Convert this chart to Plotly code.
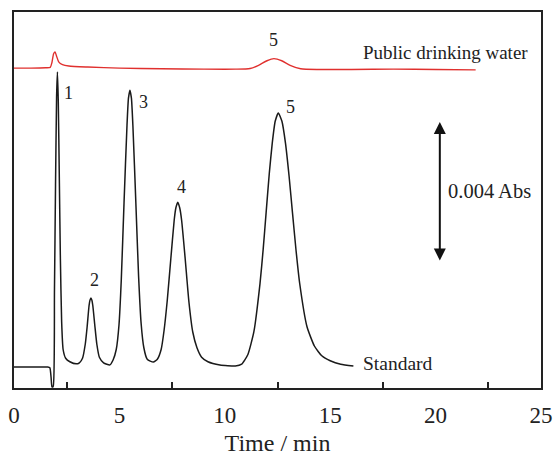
import plotly.graph_objects as go

# Standard chromatogram (time in min, absorbance in Abs, offset for display)
std_time = [0.00, 0.80, 1.60, 1.70, 1.76, 1.80, 1.86, 1.92, 1.97, 2.02, 2.06, 2.10, 2.15, 2.20, 2.26,
            2.33, 2.45, 2.65, 2.95, 3.10, 3.25, 3.38, 3.47, 3.56, 3.605, 3.65, 3.695, 3.74, 3.84,
            3.93, 4.05, 4.25, 4.55, 4.70, 4.85, 4.98, 5.09, 5.22, 5.36, 5.43, 5.50, 5.57, 5.64,
            5.78, 5.91, 6.03, 6.16, 6.32, 6.61, 6.80, 6.98, 7.12, 7.27, 7.44, 7.60, 7.68, 7.77,
            7.86, 7.95, 8.12, 8.30, 8.48, 8.68, 8.90, 9.20, 9.77, 10.50, 10.80, 11.09, 11.38,
            11.67, 11.82, 11.96, 12.11, 12.25, 12.39, 12.54, 12.71, 12.88, 13.05, 13.21, 13.38,
            13.55, 13.90, 14.25, 14.60, 15.00, 15.50, 16.10]
std_abs = [0.00060, 0.00060, 0.00060, 0.00058, 0.00030, 0.00003, 0.00005, 0.00280, 0.00580,
           0.00830, 0.00903, 0.00820, 0.00600, 0.00370, 0.00190, 0.00110, 0.00085, 0.00075,
           0.00069, 0.00072, 0.00085, 0.00125, 0.00175, 0.00235, 0.00251, 0.00257, 0.00251,
           0.00235, 0.00175, 0.00125, 0.00088, 0.00072, 0.00066, 0.00080, 0.00110, 0.00180,
           0.00310, 0.00530, 0.00750, 0.00828, 0.00851, 0.00828, 0.00750, 0.00530, 0.00320,
           0.00185, 0.00115, 0.00082, 0.00074, 0.00082, 0.00110, 0.00165, 0.00250, 0.00370,
           0.00480, 0.00515, 0.00531, 0.00515, 0.00480, 0.00370, 0.00245, 0.00160, 0.00115,
           0.00088, 0.00075, 0.00066, 0.00063, 0.00068, 0.00095, 0.00161, 0.00298, 0.00396,
           0.00501, 0.00613, 0.00699, 0.00762, 0.00786, 0.00762, 0.00699, 0.00605, 0.00501,
           0.00393, 0.00300, 0.00175, 0.00120, 0.00092, 0.00078, 0.00068, 0.00063]

# Public drinking water chromatogram
water_time = [0.00, 0.80, 1.50, 1.72, 1.80, 1.88, 1.95, 2.02, 2.12, 2.30, 2.60, 3.50, 5.00, 7.00,
              9.00, 10.50, 11.20, 11.60, 12.00, 12.33, 12.70, 13.10, 13.60, 14.50, 16.00, 18.00,
              20.00, 21.90]
water_abs = [0.00914, 0.00914, 0.00915, 0.00916, 0.00930, 0.00955, 0.00960, 0.00948, 0.00932,
             0.00924, 0.00920, 0.00917, 0.00914, 0.00912, 0.00911, 0.00911, 0.00913, 0.00922,
             0.00935, 0.00941, 0.00935, 0.00922, 0.00912, 0.00910, 0.00910, 0.00911, 0.00910,
             0.00909]

# Peak labels
peak_labels = ["1", "2", "3", "4", "5"]
peak_label_t = [2.58, 3.84, 6.12, 7.96, 13.13]
peak_label_y = [0.00843, 0.00309, 0.00817, 0.00574, 0.00803]

x_tick_vals = [0, 5, 10, 15, 20, 25]
x_minor_vals = [2.5, 7.5, 12.5, 17.5, 22.5]

SERIF = "Liberation Serif"
TXT = "#222"

fig = go.Figure()
fig.add_trace(go.Scatter(x=water_time, y=water_abs, mode="lines",
                         line=dict(color="#e0302e", width=1.4, shape="spline", smoothing=0.6),
                         showlegend=False))
fig.add_trace(go.Scatter(x=std_time, y=std_abs, mode="lines",
                         line=dict(color="#1a1a1a", width=1.5, shape="spline", smoothing=0.5),
                         showlegend=False))

annotations = []
for lab, t, y in zip(peak_labels, peak_label_t, peak_label_y):
    annotations.append(dict(x=t, y=y, text=lab, showarrow=False,
                            font=dict(family=SERIF, size=18, color=TXT)))
annotations.append(dict(x=12.33, y=0.00994, text="5", showarrow=False,
                        font=dict(family=SERIF, size=18, color=TXT)))
annotations.append(dict(x=20.45, y=0.0096, text="Public drinking water", showarrow=False,
                        font=dict(family=SERIF, size=19, color=TXT)))
annotations.append(dict(x=16.45, y=0.00071, text="Standard", showarrow=False, xanchor="left",
                        font=dict(family=SERIF, size=19.5, color=TXT)))
annotations.append(dict(x=20.5, y=0.00562, text="0.004 Abs", showarrow=False, xanchor="left",
                        font=dict(family=SERIF, size=20.5, color=TXT)))
annotations.append(dict(x=20.2, y=0.0076, ax=20.2, ay=0.0036, axref="x", ayref="y",
                        xref="x", yref="y", text="", showarrow=True,
                        arrowhead=2, startarrowhead=2, arrowside="end+start",
                        arrowsize=1.2, startarrowsize=1.2, arrowwidth=2, arrowcolor="#111"))

fig.update_layout(
    width=555, height=456,
    margin=dict(l=14, r=14, t=12, b=68),
    paper_bgcolor="white", plot_bgcolor="white",
    annotations=annotations,
    xaxis=dict(range=[0, 25], tickvals=x_tick_vals, ticks="", showgrid=False, zeroline=False,
               showline=True, mirror=True, linecolor="#222", linewidth=1.5, automargin=False,
               ticklabelstandoff=6,
               minor=dict(tickvals=x_minor_vals, ticks="inside", ticklen=6, tickcolor="#222",
                          tickwidth=1.5, showgrid=False),
               tickfont=dict(family=SERIF, size=23, color=TXT),
               title=dict(text="Time / min", font=dict(family=SERIF, size=24, color=TXT),
                          standoff=14)),
    yaxis=dict(range=[0, 0.010743], showticklabels=False, ticks="", showgrid=False,
               zeroline=False, showline=True, mirror=True, linecolor="#222", linewidth=1.5,
               automargin=False),
)

fig.write_html("out.html", config={"displayModeBar": False},
               post_script="document.body.style.margin='0';document.body.style.overflow='hidden';")
